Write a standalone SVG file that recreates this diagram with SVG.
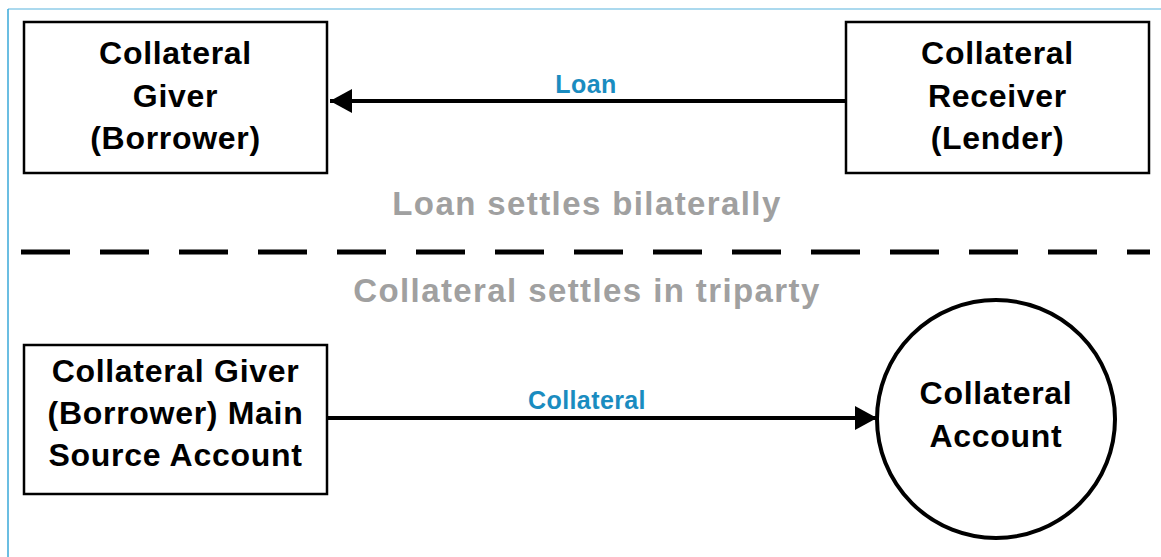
<svg xmlns="http://www.w3.org/2000/svg" width="1161" height="557" viewBox="0 0 1161 557">
  <defs>
    <style>
      .box { fill: #fff; stroke: #000; stroke-width: 2.5; }
      .circ { fill: #fff; stroke: #000; stroke-width: 4; }
      .node { font-family: "Liberation Sans", Arial, sans-serif; font-weight: bold; font-size: 32px; fill: #000; text-anchor: middle; letter-spacing: 0.7px; }
      .lbl { font-family: "Liberation Sans", Arial, sans-serif; font-weight: bold; font-size: 25px; fill: #1a8cc0; text-anchor: middle; letter-spacing: 0.4px; }
      .sec { font-family: "Liberation Sans", Arial, sans-serif; font-weight: bold; font-size: 33px; fill: #a0a0a0; text-anchor: middle; letter-spacing: 1.4px; }
      .conn { stroke: #000; stroke-width: 4; fill: none; }
    </style>
    <marker id="arrow" markerUnits="userSpaceOnUse" markerWidth="22" markerHeight="24" refX="22" refY="12" orient="auto">
      <path d="M0,0 L22,12 L0,24 Z" fill="#000"/>
    </marker>
  </defs>
  <rect width="1161" height="557" fill="#fff"/>
  <g id="frame">
    <line x1="8" y1="9" x2="1161" y2="9" stroke="#8fcde8" stroke-width="1.5"/>
    <line x1="8" y1="9" x2="8" y2="557" stroke="#3aa9d8" stroke-width="1.5"/>
  </g>
  <g id="giver">
    <rect class="box" x="24" y="22" width="303" height="151"/>
    <text class="node" x="175.5" y="64">Collateral</text>
    <text class="node" x="175.5" y="107">Giver</text>
    <text class="node" x="175.5" y="149">(Borrower)</text>
  </g>
  <g id="receiver">
    <rect class="box" x="846" y="22" width="303" height="151"/>
    <text class="node" x="997.5" y="64">Collateral</text>
    <text class="node" x="997.5" y="107">Receiver</text>
    <text class="node" x="997.5" y="149">(Lender)</text>
  </g>
  <g id="source">
    <rect class="box" x="24" y="345" width="303" height="149"/>
    <text class="node" x="175.5" y="382">Collateral Giver</text>
    <text class="node" x="175.5" y="424">(Borrower) Main</text>
    <text class="node" x="175.5" y="466">Source Account</text>
  </g>
  <g id="account">
    <circle class="circ" cx="996" cy="419" r="119"/>
    <text class="node" x="996" y="404">Collateral</text>
    <text class="node" x="996" y="447">Account</text>
  </g>
  <g id="sections">
    <text class="sec" x="587" y="215">Loan settles bilaterally</text>
    <line x1="21" y1="252" x2="1150" y2="252" stroke="#000" stroke-width="5" stroke-dasharray="49 30"/>
    <text class="sec" x="587" y="302">Collateral settles in triparty</text>
  </g>
  <g id="connectors">
    <line class="conn" x1="846" y1="101" x2="330" y2="101" marker-end="url(#arrow)"/>
    <text class="lbl" x="586" y="93">Loan</text>
    <line class="conn" x1="327" y1="418" x2="877" y2="418" marker-end="url(#arrow)"/>
    <text class="lbl" x="587" y="409">Collateral</text>
  </g>
</svg>
